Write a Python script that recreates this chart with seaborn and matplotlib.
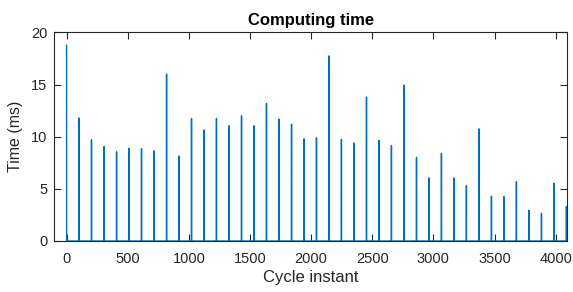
import numpy as np
import pandas as pd
import seaborn as sns
import matplotlib
matplotlib.use("Agg")
import matplotlib.pyplot as plt

# cycles where the controller did work, and how long it took (ms)
spike_cycles = [0, 102, 204, 307, 409, 511, 613, 715, 818, 920,
                1022, 1124, 1226, 1329, 1431, 1533, 1635, 1737, 1840, 1942,
                2044, 2146, 2248, 2351, 2453, 2555, 2657, 2759, 2862, 2964,
                3066, 3168, 3270, 3373, 3475, 3577, 3679, 3781, 3884, 3986,
                4088]
spike_times = [18.8, 11.8, 9.7, 9.05, 8.55, 8.9, 8.85, 8.65, 16.0, 8.15,
               11.75, 10.65, 11.75, 11.05, 12.0, 11.05, 13.2, 11.7, 11.2, 9.8,
               9.9, 17.75, 9.75, 9.4, 13.8, 9.65, 9.15, 14.95, 8.0, 6.05,
               8.4, 6.05, 5.3, 10.75, 4.3, 4.25, 5.7, 2.95, 2.65, 5.55,
               3.3]
n_cycles = 4096

time_ms = np.zeros(n_cycles)
time_ms[spike_cycles] = spike_times
df = pd.DataFrame({"cycle": np.arange(n_cycles), "time": time_ms})

sns.set_style("ticks")
plt.rcParams["font.family"] = ["Liberation Sans", "DejaVu Sans"]
dark = "#262626"

fig = plt.figure(figsize=(5.73, 2.92), dpi=100)
ax = fig.add_axes([0.0948, 0.1747, 0.8952, 0.7143])

sns.lineplot(data=df, x="cycle", y="time", color="#0072BD", linewidth=1.0, ax=ax)

ax.set_xlim(-100, 4095)
ax.set_ylim(0, 20)
ax.set_xticks([0, 500, 1000, 1500, 2000, 2500, 3000, 3500, 4000])
ax.set_yticks([0, 5, 10, 15, 20])
ax.tick_params(direction="in", length=5, width=0.8, colors=dark,
               labelsize=10.5, top=True, right=True)
ax.tick_params(axis="x", pad=8)
ax.tick_params(axis="y", pad=5)
for s in ax.spines.values():
    s.set_color(dark)
    s.set_linewidth(0.8)
    s.set_visible(True)

ax.set_title("Computing time", fontsize=12, fontweight="bold", color="black", pad=5)
ax.set_xlabel("Cycle instant", fontsize=12, color=dark, labelpad=3)
ax.set_ylabel("Time (ms)", fontsize=11.5, color=dark, labelpad=6)

fig.savefig("out.png", dpi=100)
